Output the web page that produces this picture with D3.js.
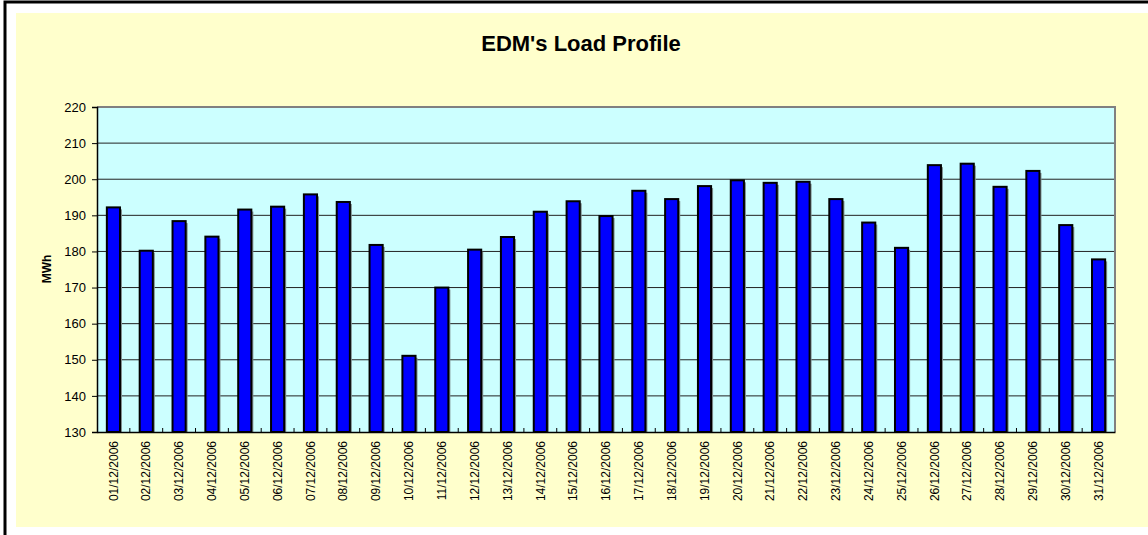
<!DOCTYPE html>
<html>
<head>
<meta charset="utf-8">
<script src="https://cdn.jsdelivr.net/npm/d3@7"></script>
<style>
body{margin:0;background:#fff;}
text{font-family:Arial,"Liberation Sans",sans-serif;fill:#000;}
</style>
</head>
<body>
<div id="chart"></div>
<script>
// dates and daily load (MWh)
var days = ["01/12/2006","02/12/2006","03/12/2006","04/12/2006","05/12/2006","06/12/2006","07/12/2006","08/12/2006",
    "09/12/2006","10/12/2006","11/12/2006","12/12/2006","13/12/2006","14/12/2006","15/12/2006","16/12/2006",
    "17/12/2006","18/12/2006","19/12/2006","20/12/2006","21/12/2006","22/12/2006","23/12/2006","24/12/2006",
    "25/12/2006","26/12/2006","27/12/2006","28/12/2006","29/12/2006","30/12/2006","31/12/2006"]
var load = [192.2,180.2,188.4,184.1,191.6,192.4,195.8,193.7,181.8,151.1,170.0,180.5,184.0,191.0,193.9,189.8,
    196.8,194.5,198.1,199.7,199.0,199.3,194.5,188.0,181.0,203.9,204.3,197.9,202.3,187.3,177.8]
var yTicks = [130,140,150,160,170,180,190,200,210,220]

var w = 1148, h = 535
// plot area edges (note: "top" is a reserved global, so use plot* names)
var plotL = 97, plotR = 1115, plotT = 107, plotB = 432

var svg = d3.select("#chart").append("svg").attr("width",w).attr("height",h)

// frame + background
svg.append("rect").attr("x",5).attr("y",2).attr("width",w+10).attr("height",h+10)
    .attr("fill","#fff").attr("stroke","#000").attr("stroke-width",3)
svg.append("rect").attr("x",16).attr("y",13).attr("width",w).attr("height",527-13)
    .attr("fill","#FFFFCC")

var x = d3.scaleBand().domain(days).range([plotL,plotR]).padding(0)
var y = d3.scaleLinear().domain([130,220]).range([plotB,plotT])

svg.append("rect").attr("x",plotL).attr("y",plotT).attr("width",plotR-plotL).attr("height",plotB-plotT)
    .attr("fill","#CCFFFF")

// grid
svg.selectAll(".grid").data(yTicks.slice(1,-1)).enter().append("line")
    .attr("class","grid")
    .attr("x1",plotL).attr("x2",plotR)
    .attr("y1",function(d){return y(d)}).attr("y2",function(d){return y(d)})
    .attr("stroke","#222").attr("stroke-width",1)

// plot border top / right
svg.append("line").attr("x1",plotL).attr("x2",plotR+1).attr("y1",plotT).attr("y2",plotT)
    .attr("stroke","#808080").attr("stroke-width",2)
svg.append("line").attr("x1",plotR).attr("x2",plotR).attr("y1",plotT).attr("y2",plotB)
    .attr("stroke","#808080").attr("stroke-width",2)

var barW = x.bandwidth()*0.40
// shadow
svg.selectAll(".shadow").data(days).enter().append("rect")
    .attr("class","shadow")
    .attr("x",function(d){return x(d)+x.bandwidth()/2-barW/2+2})
    .attr("y",function(d,i){return y(load[i])+2})
    .attr("width",barW)
    .attr("height",function(d,i){return plotB-y(load[i])-2})
    .attr("fill","#7f8f8f")
svg.selectAll(".bar").data(days).enter().append("rect")
    .attr("class","bar")
    .attr("x",function(d){return x(d)+x.bandwidth()/2-barW/2})
    .attr("y",function(d,i){return y(load[i])})
    .attr("width",barW)
    .attr("height",function(d,i){return plotB-y(load[i])})
    .attr("fill","#0000FF").attr("stroke","#000").attr("stroke-width",2)

// y axis
var yAxis = d3.axisLeft(y).tickValues(yTicks).tickSize(5).tickPadding(6)
var gy = svg.append("g").attr("transform","translate("+plotL+",0)").call(yAxis)
gy.select(".domain").attr("stroke","#000").attr("stroke-width",1.5)
gy.selectAll(".tick line").attr("stroke","#000")
gy.selectAll("text").style("font-size","13px").attr("fill","#111")

// x axis
var xAxis = d3.axisBottom(x).tickSize(0).tickPadding(0)
var gx = svg.append("g").attr("transform","translate(0,"+plotB+")").call(xAxis)
gx.select(".domain").attr("stroke","#000").attr("stroke-width",1.5)
gx.selectAll("text")
    .style("font-size","12px").attr("fill","#111")
    .attr("text-anchor","end")
    .attr("transform","rotate(-90)")
    .attr("x",-9).attr("y",0).attr("dy","0.35em")
// inside ticks on category boundaries
svg.selectAll(".xtick").data(days.slice(1)).enter().append("line")
    .attr("class","xtick")
    .attr("x1",function(d){return x(d)}).attr("x2",function(d){return x(d)})
    .attr("y1",plotB-4).attr("y2",plotB)
    .attr("stroke","#000")

// titles
svg.append("text").attr("x",581).attr("y",51).attr("text-anchor","middle")
    .style("font-size","22px").style("font-weight","bold").text("EDM's Load Profile")
svg.append("text").attr("transform","translate(51,269) rotate(-90)").attr("text-anchor","middle")
    .style("font-size","12px").style("font-weight","bold").text("MWh")
</script>
</body>
</html>
